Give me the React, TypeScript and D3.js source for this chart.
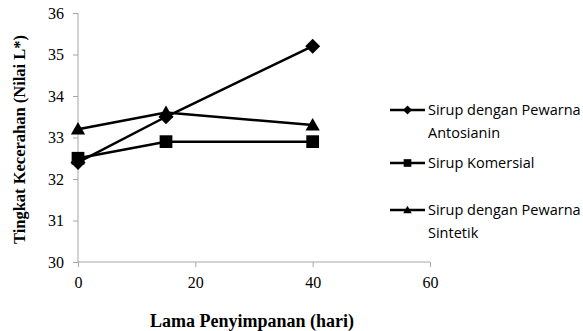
import React, { useEffect, useRef } from 'react';
import * as d3 from 'd3';

// storage days
const days = [0, 15, 40];
const antosianin = [32.4, 33.5, 35.2];
const komersial = [32.5, 32.9, 32.9];
const sintetik = [33.2, 33.6, 33.3];

const xTicks = [0, 20, 40, 60];
const yTicks = [30, 31, 32, 33, 34, 35, 36];

const seriesNames = [
  ['Sirup dengan Pewarna', 'Antosianin'],
  ['Sirup Komersial'],
  ['Sirup dengan Pewarna', 'Sintetik'],
];
const seriesValues = [antosianin, komersial, sintetik];
const seriesSymbols = ['diamond', 'square', 'triangle'];

function marker(kind: string, r: number) {
  if (kind === 'diamond') return `M0,${-r}L${r},0L0,${r}L${-r},0Z`;
  if (kind === 'square') {
    const h = r * 0.85;
    return `M${-h},${-h}H${h}V${h}H${-h}Z`;
  }
  const h = r * 0.95;
  return `M0,${-h}L${h},${h * 0.75}H${-h}Z`;
}

const App: React.FC = () => {
  const svgRef = useRef<SVGSVGElement | null>(null);

  useEffect(() => {
    if (!svgRef.current) return;
    const width = 583;
    const height = 331;
    const svg = d3.select(svgRef.current);
    svg.selectAll('*').remove();

    const x = d3.scaleLinear().domain([0, 60]).range([78, 430]);
    const y = d3.scaleLinear().domain([30, 36]).range([262, 13]);
    const serif = '"Liberation Serif", "Times New Roman", serif';
    const sans = '"Open Sans", "Noto Sans", sans-serif';

    // axes
    const xAxis = svg
      .append('g')
      .attr('transform', `translate(0,${y(30)})`)
      .call(
        d3.axisBottom(x).tickValues(xTicks).tickFormat(d3.format('d')).tickSize(5).tickPadding(10)
      );
    const yAxis = svg
      .append('g')
      .attr('transform', `translate(${x(0)},0)`)
      .call(
        d3.axisLeft(y).tickValues(yTicks).tickFormat(d3.format('d')).tickSize(5).tickPadding(9)
      );

    [xAxis, yAxis].forEach((g) => {
      g.attr('font-family', serif).attr('font-size', 16);
      g.selectAll('path, line').attr('stroke', '#a6a6a6').attr('stroke-width', 1);
      g.selectAll('text').style('font-family', serif).style('font-size', '16px').attr('fill', '#000');
    });
    xAxis.select('.domain').attr('d', `M${x(0)},0H${x(60)}`);
    yAxis.select('.domain').attr('d', `M0,${y(30)}V${y(36)}`);

    // axis titles
    svg
      .append('text')
      .attr('x', 252)
      .attr('y', 327)
      .attr('text-anchor', 'middle')
      .style('font-family', serif)
      .style('font-weight', 'bold')
      .style('font-size', '18px')
      .text('Lama Penyimpanan (hari)');
    svg
      .append('text')
      .attr('transform', `translate(25,${(y(30) + y(36)) / 2 + 2}) rotate(-90)`)
      .attr('text-anchor', 'middle')
      .style('font-family', serif)
      .style('font-weight', 'bold')
      .style('font-size', '16.5px')
      .text('Tingkat Kecerahan (Nilai L*)');

    const line = d3
      .line<number>()
      .x((_, i) => x(days[i]))
      .y((d) => y(d));

    seriesValues.forEach((vals, s) => {
      svg
        .append('path')
        .attr('d', line(vals) || '')
        .attr('fill', 'none')
        .attr('stroke', '#000')
        .attr('stroke-width', 2.5);
      svg
        .selectAll(null)
        .data(vals)
        .enter()
        .append('path')
        .attr('d', marker(seriesSymbols[s], 7.5))
        .attr('transform', (d, i) => `translate(${x(days[i])},${y(d)})`)
        .attr('fill', '#000');
    });

    // legend
    const legendY = [110, 163, 210];
    seriesNames.forEach((lines, s) => {
      const g = svg.append('g').attr('transform', `translate(390,${legendY[s]})`);
      g.append('line')
        .attr('x1', 0)
        .attr('x2', 35)
        .attr('stroke', '#000')
        .attr('stroke-width', 2.5);
      g.append('path')
        .attr('d', marker(seriesSymbols[s], 4.5))
        .attr('transform', 'translate(17.5,0)')
        .attr('fill', '#000');
      lines.forEach((t, k) => {
        g.append('text')
          .attr('x', 38)
          .attr('y', 5 + k * 23)
          .style('font-family', sans)
          .style('font-size', '14.5px')
          .attr('fill', '#000')
          .text(t);
      });
    });

    svg.attr('width', width).attr('height', height);
  }, []);

  return (
    <svg
      ref={svgRef}
      style={{ position: 'absolute', left: 0, top: 0, background: '#fff' }}
    ></svg>
  );
};

export default App;
